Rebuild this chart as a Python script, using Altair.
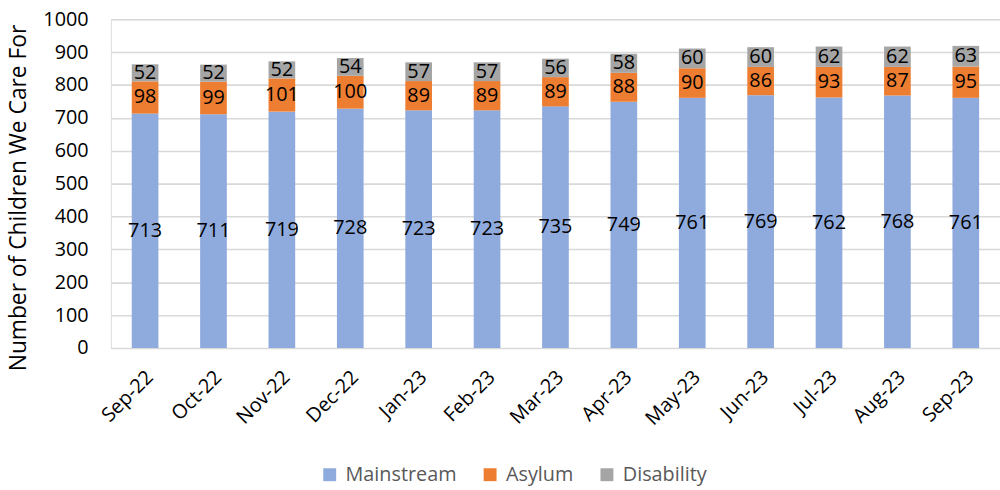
import altair as alt
import pandas as pd

# Monthly counts of children in care, by category
months = ["Sep-22", "Oct-22", "Nov-22", "Dec-22", "Jan-23", "Feb-23", "Mar-23",
          "Apr-23", "May-23", "Jun-23", "Jul-23", "Aug-23", "Sep-23"]
mainstream = [713, 711, 719, 728, 723, 723, 735, 749, 761, 769, 762, 768, 761]
asylum = [98, 99, 101, 100, 89, 89, 89, 88, 90, 86, 93, 87, 95]
disability = [52, 52, 52, 54, 57, 57, 56, 58, 60, 60, 62, 62, 63]

series_names = ["Mainstream", "Asylum", "Disability"]
series_colors = ["#8FAADC", "#ED7D31", "#A5A5A5"]
y_ticks = [0, 100, 200, 300, 400, 500, 600, 700, 800, 900, 1000]

rows = []
for i, m in enumerate(months):
    for k, (name, vals) in enumerate(zip(series_names, [mainstream, asylum, disability])):
        rows.append({"month": m, "series": name, "value": vals[i], "order": k})
df = pd.DataFrame(rows)

FONT = "Open Sans"

base = alt.Chart(df).transform_stack(
    stack="value",
    groupby=["month"],
    as_=["y0", "y1"],
    sort=[alt.SortField("order", order="ascending")],
).transform_calculate(mid="(datum.y0 + datum.y1) / 2")

x_scale = alt.Scale(domain=months, paddingInner=0.61, paddingOuter=0.305)
y_scale = alt.Scale(domain=[0, 1000], nice=False)

x_axis = alt.Axis(
    labelAngle=-45,
    labelAlign="right",
    labelBaseline="top",
    labelFontSize=20,
    labelFont=FONT,
    labelColor="#000000",
    labelPadding=19,
    labelOffset=-2,
    labelOverlap=False,
    ticks=False,
    domain=False,
    grid=False,
)

y_axis = alt.Axis(
    values=y_ticks,
    format="d",
    labelOverlap=False,
    labelBound=False,
    title="Number of Children We Care For",
    titleFont=FONT,
    titleFontSize=23,
    titleFontWeight="normal",
    titleColor="#000000",
    titleAngle=-90,
    titleX=-93,
    titleY=180,
    titleAlign="center",
    titleBaseline="middle",
    labelFont=FONT,
    labelFontSize=20,
    labelColor="#000000",
    labelPadding=23,
    ticks=False,
    domain=False,
    gridColor="#D9D9D9",
    gridWidth=1.6,
)

bars = base.mark_bar().encode(
    x=alt.X("month:N", sort=months, title=None, scale=x_scale, axis=x_axis),
    y=alt.Y("y0:Q", scale=y_scale, axis=y_axis),
    y2="y1:Q",
    color=alt.Color(
        "series:N",
        scale=alt.Scale(domain=series_names, range=series_colors),
        legend=alt.Legend(
            title=None,
            orient="none",
            direction="horizontal",
            legendX=211,
            legendY=450,
            symbolType="square",
            symbolSize=170,
            symbolStrokeWidth=0,
            labelFont=FONT,
            labelFontSize=20,
            labelColor="#595959",
            labelOffset=6,
            columnPadding=23,
        ),
    ),
    order=alt.Order("order:Q"),
)

labels = base.mark_text(font=FONT, fontSize=20, color="#000000", baseline="middle").encode(
    x=alt.X("month:N", sort=months, title=None, scale=x_scale, axis=x_axis),
    y=alt.Y("mid:Q", scale=y_scale, axis=y_axis),
    text=alt.Text("value:Q"),
)

chart = (
    alt.layer(bars, labels)
    .properties(
        width=898,
        height=332,
        autosize=alt.AutoSizeParams(type="none"),
        padding={"left": 112, "top": 17, "right": 0, "bottom": 141},
    )
    .configure_view(strokeOpacity=0)
    .configure(background="#FFFFFF")
)

chart.save("out.html", embed_options={"renderer": "svg", "actions": False})
